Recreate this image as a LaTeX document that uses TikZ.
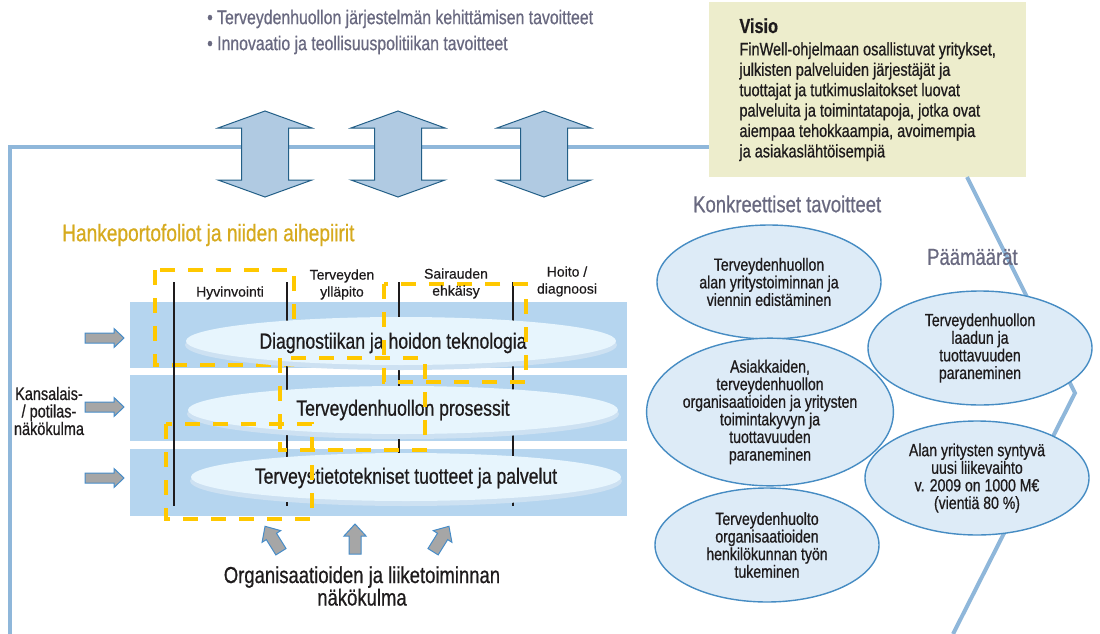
\documentclass[tikz,border=0pt]{standalone}
\usepackage{fontspec}
\setmainfont{Liberation Sans}[FakeStretch=0.8, FakeBold=0.7]
\newfontfamily\plainsf{Liberation Sans}[FakeBold=0.5]
\usetikzlibrary{shapes.geometric}
\definecolor{ink}{RGB}{30,27,28}
\definecolor{aimgray}{RGB}{105,105,128}
\definecolor{frameblue}{RGB}{143,183,218}
\definecolor{visiofill}{RGB}{237,237,204}
\definecolor{bandblue}{RGB}{181,213,239}
\definecolor{disktop}{RGB}{231,245,253}
\definecolor{diskrim}{RGB}{205,225,242}
\definecolor{gold}{RGB}{255,200,0}
\definecolor{goldtext}{RGB}{214,170,30}
\definecolor{arrowfill}{RGB}{176,202,226}
\definecolor{arrowline}{RGB}{35,95,135}
\definecolor{arrowgray}{RGB}{166,166,166}
\definecolor{arrowedge}{RGB}{70,140,200}
\definecolor{goalfill}{RGB}{221,235,247}
\definecolor{goalline}{RGB}{70,140,195}
\begin{document}
\begin{tikzpicture}[x=1pt, y=-1pt,
    frame/.style={draw=frameblue, line width=4pt},
    band/.style={fill=bandblue},
    colline/.style={draw=ink, line width=1.4pt},
    portfolio/.style={draw=gold, line width=3.5pt, dash pattern=on 15pt off 13pt},
    bigarrow/.style={fill=arrowfill, draw=arrowline, line width=1pt, line join=miter},
    grayarrow/.style={fill=arrowgray, draw=arrowedge, line width=1pt},
    colhead/.style={font=\plainsf\fontsize{14}{17}\selectfont, align=center, text=ink},
    disktext/.style={font=\fontsize{22}{24}\selectfont, text=ink},
    goal/.style={ellipse, draw=goalline, line width=1.4pt, fill=goalfill,
        minimum width=224pt, minimum height=114pt, inner sep=0pt, align=center,
        font=\fontsize{17.6}{17.6}\selectfont, text=ink}]
\useasboundingbox (0,0) rectangle (1100,634);
% aims on top
\node[anchor=west, inner sep=0, text=aimgray, font=\fontsize{19.8}{20}\selectfont] (aim1) at (207,19) {• Terveydenhuollon järjestelmän kehittämisen tavoitteet};
\node[anchor=west, inner sep=0, text=aimgray, font=\fontsize{19.8}{20}\selectfont] (aim2) at (207,45) {• Innovaatio ja teollisuuspolitiikan tavoitteet};
% vision box and frame
\node[fill=visiofill, minimum width=317pt, minimum height=175pt, align=left, anchor=north west,
    font=\fontsize{18.1}{20.4}\selectfont, text=ink] (visio) at (709,2)
    {{\fontsize{20.3}{20}\selectfont\bfseries Visio}\\[2pt]
     FinWell-ohjelmaan osallistuvat yritykset,\\
     julkisten palveluiden järjestäjät ja\\
     tuottajat ja tutkimuslaitokset luovat\\
     palveluita ja toimintatapoja, jotka ovat\\
     aiempaa tehokkaampia, avoimempia\\
     ja asiakaslähtöisempiä};
\coordinate (corner) at (10,147);
\draw[frame] (10,634) -- (corner) -- (visio.west |- corner);
\coordinate (zigtop) at (967,177);
\coordinate (zigmid) at (1075,393);
\coordinate (zigend) at (953,634);
\draw[frame] (zigtop) -- (zigmid) -- (zigend);
\foreach \c in {265,398,544}
  \draw[bigarrow] (\c,111) -- ++(47,17) -- ++(-23.5,0) -- ++(0,52) -- ++(23.5,0) -- ++(-47,17)
      -- ++(-47,-17) -- ++(23.5,0) -- ++(0,-52) -- ++(-23.5,0) -- cycle;
% portfolios
\node[anchor=west, inner sep=0, text=goldtext, font=\fontsize{23.9}{24}\selectfont] (portfolios) at (62,235) {Hankeportofoliot ja niiden aihepiirit};
\foreach \t/\b in {302/368, 375/441, 449/516}
  \fill[band] (130,\t) rectangle (627,\b);
\draw[portfolio] (155,270) rectangle (294,365);
\foreach \x in {174,287,399,513}
  \draw[colline] (\x,282) -- (\x,506);
\foreach \cx/\cy in {401/341, 403/410, 406/477}{
  \fill[diskrim] (\cx,\cy+4) ellipse [x radius=216, y radius=25];
  \fill[disktop] (\cx,\cy) ellipse [x radius=215, y radius=24];
}
\node[disktext] (tech) at (393,343) {Diagnostiikan ja hoidon teknologia};
\node[disktext] (process) at (403,410) {Terveydenhuollon prosessit};
\node[disktext] (ict) at (406,478) {Terveystietotekniset tuotteet ja palvelut};
\draw[portfolio] (280,358) rectangle (425,450);
\draw[portfolio] (384,284) rectangle (526,382);
\draw[portfolio] (166,424) rectangle (312,519);
\node[colhead] (wellbeing) at (230,293) {Hyvinvointi};
\node[colhead] (upkeep) at (342,284.5) {Terveyden\\ylläpito};
\node[colhead] (prevention) at (456,283.5) {Sairauden\\ehkäisy};
\node[colhead] (care) at (567,281.5) {Hoito /\\diagnoosi};
% viewpoints
\foreach \y in {338,407,478}
  \draw[grayarrow] (85,\y-5) -- (114,\y-5) -- (114,\y-9.5) -- (124,\y) -- (114,\y+9.5) -- (114,\y+5) -- (85,\y+5) -- cycle;
\node[align=center, text=ink, font=\fontsize{18.1}{17.5}\selectfont] (citizen) at (49,411) {Kansalais-\\/ potilas-\\näkökulma};
\foreach \x/\a in {273/32, 355/0, 441/-32}
  \draw[grayarrow, shift={(\x,539)}, rotate=\a] (-6,15) -- (-6,-3) -- (-11,-3) -- (0,-15) -- (11,-3) -- (6,-3) -- (6,15) -- cycle;
\node[align=center, text=ink, font=\fontsize{23.1}{22.5}\selectfont] (business) at (362,586) {Organisaatioiden ja liiketoiminnan\\näkökulma};
% goals
\node[anchor=west, inner sep=0, text=aimgray, font=\fontsize{23.1}{24}\selectfont] (concrete) at (693,204) {Konkreettiset tavoitteet};
\node[anchor=west, inner sep=0, text=aimgray, font=\fontsize{23.1}{24}\selectfont] (ends) at (927,257) {Päämäärät};
\node[goal] (export) at (769,282) {Terveydenhuollon\\alan yritystoiminnan ja\\viennin edistäminen};
\node[goal] (capacity) at (770,412) {Asiakkaiden,\\terveydenhuollon\\organisaatioiden ja yritysten\\toimintakyvyn ja\\tuottavuuden\\paraneminen};
\node[goal] (staff) at (767,545) {Terveydenhuolto\\organisaatioiden\\henkilökunnan työn\\tukeminen};
\node[goal] (quality) at (980,348) {Terveydenhuollon\\laadun ja\\tuottavuuden\\paraneminen};
\node[goal] (revenue) at (977,478) {Alan yritysten syntyvä\\uusi liikevaihto\\v. 2009 on 1000 M€\\(vientiä 80 \%)};
\end{tikzpicture}
\end{document}
